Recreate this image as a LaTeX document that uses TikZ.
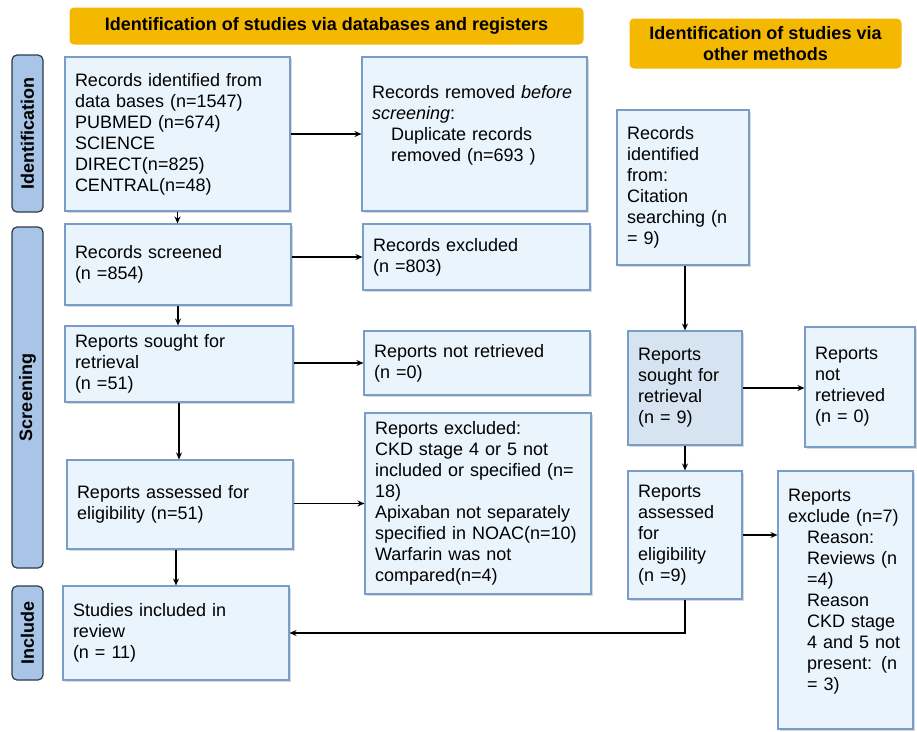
\documentclass[tikz,border=0pt]{standalone}
\usepackage{fontspec}
\setmainfont{Liberation Sans}
\usetikzlibrary{arrows.meta,shadows}
\definecolor{boxfill}{RGB}{234,244,252}
\definecolor{boxline}{RGB}{122,156,200}
\definecolor{boxdark}{RGB}{214,228,242}
\definecolor{bannerfill}{RGB}{245,184,0}
\definecolor{phasefill}{RGB}{168,196,230}
\definecolor{phaseline}{RGB}{45,58,74}
\tikzset{
  stage/.style={draw=boxline, fill=boxfill, line width=1.1pt, inner xsep=10pt, inner ysep=0pt,
    align=left, font=\fontsize{18}{21}\selectfont,
    drop shadow={shadow xshift=2pt, shadow yshift=-2pt, opacity=.3}},
  banner/.style={draw=white, fill=bannerfill, line width=3pt, rounded corners=6pt,
    font=\bfseries\fontsize{18}{21}\selectfont,
    drop shadow={shadow xshift=1pt, shadow yshift=-1pt, opacity=.35}},
  phase/.style={draw=phaseline, fill=phasefill, line width=1.2pt, rounded corners=5pt,
    rotate=90, minimum height=31pt, inner sep=0pt, font=\bfseries\fontsize{18}{21}\selectfont},
  arr/.style={-{Stealth[length=7pt,width=6pt]}, line width=1.1pt}
}
\begin{document}
\begin{tikzpicture}[x=1pt, y=-1pt]
\useasboundingbox (0,0) rectangle (917,731);
% headers and phases
\node[banner, minimum width=517pt, minimum height=40pt] (dbhead) at (326.5,26) {Identification of studies via databases and registers};
\node[banner, minimum width=275pt, minimum height=53pt, align=center] (othhead) at (765.5,43.5) {Identification of studies via\\ other methods};
\node[phase, minimum width=157pt] (phident) at (27.5,133.5) {Identification};
\node[phase, minimum width=341pt] (phscreen) at (27.5,397.5) {Screening};
\node[phase, minimum width=94pt] (phinclude) at (27.5,633) {Include};
% databases and registers
\node[stage, text width=205pt, minimum height=154pt] (ident) at (177.5,134) {Records identified from\\ data bases (n=1547)\\ PUBMED (n=674)\\ SCIENCE\\ DIRECT(n=825)\\ CENTRAL(n=48)};
\node[stage, text width=205pt, minimum height=154pt] (removed) at (474.5,134) {Records removed \textit{before}\\ \textit{screening}:\\ \hspace*{19pt}Duplicate records\\ \hspace*{19pt}removed (n=693 )\\ \mbox{}};
\node[stage, text width=206pt, minimum height=81pt] (screened) at (178,264.5) {Records screened\\ (n =854)};
\node[stage, text width=207pt, minimum height=66pt] (excluded) at (476.5,257) {Records excluded\\ (n =803)};
\node[stage, text width=208pt, minimum height=76pt] (sought) at (179,364) {Reports sought for\\ retrieval\\ (n =51)};
\node[stage, text width=206pt, minimum height=64pt] (notretr) at (477,363) {Reports not retrieved\\ (n =0)};
\node[stage, text width=206pt, minimum height=89pt] (assessed) at (180,504.5) {Reports assessed for\\ eligibility (n=51)};
\node[stage, text width=206pt, minimum height=181pt] (repexcl) at (478,503.5) {Reports excluded:\\ CKD stage 4 or 5 not\\ included or specified (n=\\ 18)\\ Apixaban not separately\\ specified in NOAC(n=10)\\ Warfarin was not\\ compared(n=4)};
\node[stage, text width=206pt, minimum height=94pt] (included) at (176,633) {Studies included in\\ review\\ (n = 11)};
% other methods
\node[stage, text width=112pt, minimum height=155pt] (citation) at (683,187.5) {Records\\ identified\\ from:\\ Citation\\ searching (n\\ = 9)};
\node[stage, fill=boxdark, text width=94pt, minimum height=114pt] (othsought) at (685,388) {Reports\\ sought for\\ retrieval\\ (n = 9)};
\node[stage, text width=90pt, minimum height=120pt] (othnotretr) at (860,387) {Reports\\ not\\ retrieved\\ (n = 0)};
\node[stage, text width=94pt, minimum height=128pt] (othassessed) at (685,535) {Reports\\ assessed\\ for\\ eligibility\\ (n =9)};
\node[stage, text width=115pt, minimum height=258pt] (othexcl) at (845.5,600) {Reports\\ exclude (n=7)\\ \hspace*{19pt}Reason:\\ \hspace*{19pt}Reviews (n\\ \hspace*{19pt}=4)\\ \hspace*{19pt}Reason\\ \hspace*{19pt}CKD stage\\ \hspace*{19pt}4 and 5 not\\ \hspace*{19pt}present: (n\\ \hspace*{19pt}= 3)\\ \mbox{}};
% connectors
\draw[arr] (ident.south) -- (ident.south |- screened.north);
\draw[arr] (ident) -- (removed);
\draw[arr] (screened.east |- excluded) -- (excluded.west);
\draw[arr] (screened.south) -- (screened.south |- sought.north);
\draw[arr] (sought.east |- notretr) -- (notretr.west);
\draw[arr] (sought.south) -- (sought.south |- assessed.north);
\draw[arr] (assessed.east |- repexcl) -- (repexcl.west);
\draw[arr] (assessed.south -| included) -- (included.north);
\draw[arr] (citation.south -| othsought) -- (othsought.north);
\draw[arr] (othsought.east) -- (othsought.east -| othnotretr.west);
\draw[arr] (othsought.south) -- (othassessed.north);
\draw[arr] (othassessed.east) -- (othassessed.east -| othexcl.west);
\draw[arr] (othassessed.south) |- (included.east);
\end{tikzpicture}
\end{document}
